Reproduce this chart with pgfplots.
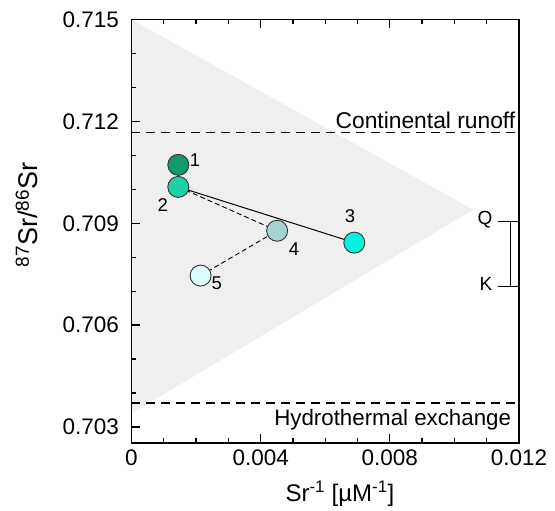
\documentclass[border=0pt]{standalone}
\usepackage{fontspec}
\setmainfont{Liberation Sans}
\usepackage{pgfplots}
\pgfplotsset{compat=1.18}
\usetikzlibrary{arrows.meta}
\definecolor{tri}{HTML}{EFEFEF}
\definecolor{c1}{HTML}{139A6B}
\definecolor{c2}{HTML}{1FCFA6}
\definecolor{c3}{HTML}{00F2DA}
\definecolor{c4}{HTML}{A4D5D1}
\definecolor{c5}{HTML}{DAFCFC}
\begin{document}
\begin{tikzpicture}
\begin{axis}[
  at={(0,0)}, anchor=south west,
  scale only axis, width=387.5pt, height=423.5pt,
  xmin=0, xmax=0.012, ymin=0.70253, ymax=0.715,
  clip=false, axis on top,
  axis line style={line width=1.3pt},
  every tick/.style={black, line width=1.3pt},
  major tick length=9pt, minor tick length=5pt,
  tick align=inside,
  xtick={0,0.004,0.008,0.012}, xticklabels={0,0.004,0.008,0.012},
  ytick={0.703,0.706,0.709,0.712,0.715}, yticklabels={0.703,0.706,0.709,0.712,0.715},
  minor xtick={0.001,0.002,0.003,0.005,0.006,0.007,0.009,0.010,0.011},
  minor ytick={0.704,0.705,0.707,0.708,0.710,0.711,0.713,0.714},
  xtick pos=both, ytick pos=left,
  scaled ticks=false,
  tick label style={font=\fontsize{22.5}{26}\selectfont},
  yticklabel style={xshift=-9pt},
  xticklabel style={yshift=-3pt},
  xlabel={Sr\textsuperscript{-1} [µM\textsuperscript{-1}]},
  ylabel={\textsuperscript{87}Sr/\textsuperscript{86}Sr},
  xlabel style={font=\fontsize{24}{28}\selectfont, at={(axis description cs:0.538,-0.1204)}, anchor=center},
  ylabel style={font=\fontsize{27}{30}\selectfont, at={(axis description cs:-0.27,0.538)}, anchor=center},
]
% shaded mixing field
\addplot[fill=tri, draw=none] coordinates {(0,0.715) (0.01058,0.7094) (0,0.7034)} -- cycle;
% end-member lines
\addplot[black, line width=1.4pt, dash pattern=on 9pt off 6pt] coordinates {(0,0.71168) (0.012,0.71168)};
\addplot[black, line width=1.4pt, dash pattern=on 9pt off 6pt] coordinates {(0,0.70371) (0.012,0.70371)};
% samples
\addplot[only marks, mark=*, mark size=10.5pt, mark options={fill=c1, draw=black!80, line width=0.9pt}] coordinates {(0.00145,0.71072)};
\addplot[only marks, mark=*, mark size=10.5pt, mark options={fill=c2, draw=black!80, line width=0.9pt}] coordinates {(0.00145,0.71007)};
\addplot[only marks, mark=*, mark size=10.5pt, mark options={fill=c3, draw=black!80, line width=0.9pt}] coordinates {(0.0069,0.70843)};
\addplot[only marks, mark=*, mark size=10.5pt, mark options={fill=c4, draw=black!80, line width=0.9pt}] coordinates {(0.00451,0.70878)};
\addplot[only marks, mark=*, mark size=10.5pt, mark options={fill=c5, draw=black!80, line width=0.9pt}] coordinates {(0.00214,0.70746)};
% connections
\addplot[black, line width=1pt] coordinates {(0.00145,0.71072) (0.00145,0.71007) (0.0069,0.70843)};
\addplot[black, line width=0.9pt, dash pattern=on 5pt off 3pt, -{Straight Barb[length=6pt,width=9pt]}] coordinates {(0.00145,0.71007) (0.00451,0.70878)};
\addplot[black, line width=0.9pt, dash pattern=on 5pt off 3pt, -{Straight Barb[length=6pt,width=9pt]}] coordinates {(0.00214,0.70746) (0.00451,0.70878)};
% Q-K bracket
\addplot[black, line width=1pt] coordinates {(0.01136,0.70906) (0.01204,0.70906)};
\addplot[black, line width=1pt] coordinates {(0.01136,0.70714) (0.01204,0.70714)};
\addplot[black, line width=1pt] coordinates {(0.01173,0.70906) (0.01173,0.70714)};
% labels
\node[font=\fontsize{18.5}{20}\selectfont] at (axis cs:0.00197,0.71086) {1};
\node[font=\fontsize{18.5}{20}\selectfont] at (axis cs:0.000966,0.70953) {2};
\node[font=\fontsize{18.5}{20}\selectfont] at (axis cs:0.006765,0.7092) {3};
\node[font=\fontsize{18.5}{20}\selectfont] at (axis cs:0.00503,0.70824) {4};
\node[font=\fontsize{18.5}{20}\selectfont] at (axis cs:0.002638,0.70723) {5};
\node[font=\fontsize{19}{20}\selectfont, anchor=base east, inner sep=0pt] at (axis cs:0.01118,0.70897) {Q};
\node[font=\fontsize{19}{20}\selectfont, anchor=base east, inner sep=0pt] at (axis cs:0.01118,0.70702) {K};
\node[font=\fontsize{22.8}{26}\selectfont, anchor=base east, inner sep=0pt] at (axis cs:0.01189,0.71180) {Continental runoff};
\node[font=\fontsize{22.3}{26}\selectfont, anchor=base east, inner sep=0pt] at (axis cs:0.01176,0.703053) {Hydrothermal exchange};
\end{axis}
\path (-131.5pt,-64pt) rectangle (423.5pt,443pt);
\end{tikzpicture}
\end{document}
